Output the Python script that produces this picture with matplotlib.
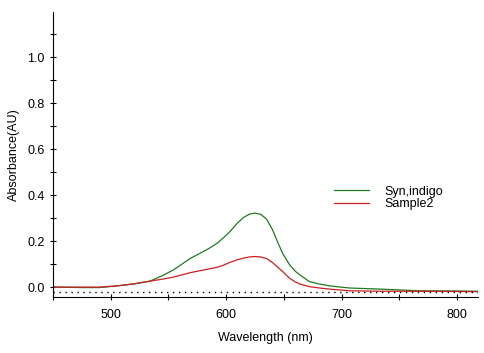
import matplotlib
matplotlib.use("Agg")
import matplotlib.pyplot as plt
from matplotlib.ticker import MultipleLocator

# values
wavelength = [450, 475, 490, 505, 520, 534, 544, 554, 569, 584, 592, 597,
              603, 609, 615, 620, 625, 630, 635, 640, 645, 649, 655, 660,
              664, 672, 681, 690, 707, 735, 767, 800, 818]
syn_indigo = [0.0, -0.002, -0.002, 0.005, 0.014, 0.026, 0.048, 0.074, 0.125,
              0.165, 0.19, 0.212, 0.24, 0.275, 0.303, 0.317, 0.322, 0.316,
              0.295, 0.25, 0.19, 0.145, 0.096, 0.068, 0.052, 0.024, 0.013,
              0.005, -0.004, -0.009, -0.016, -0.017, -0.018]
sample2 = [0.0, 0.0, 0.0, 0.005, 0.014, 0.026, 0.034, 0.043, 0.063, 0.078,
           0.086, 0.094, 0.107, 0.118, 0.126, 0.131, 0.133, 0.131, 0.124,
           0.107, 0.085, 0.067, 0.038, 0.022, 0.013, 0.002, -0.004, -0.009,
           -0.016, -0.018, -0.018, -0.019, -0.02]
baseline = -0.022


def main():
    plt.rcParams['font.family'] = ['Liberation Sans', 'DejaVu Sans']
    plt.rcParams['font.size'] = 9
    fig = plt.figure(figsize=(4.85, 3.53), dpi=100)
    ax = fig.add_axes([53 / 485, 56 / 353, 425 / 485, 285 / 353])

    ax.plot(wavelength, syn_indigo, color="#1e7b1e", lw=0.9, label="Syn,indigo")
    ax.plot(wavelength, sample2, color="#cc2020", lw=0.9, label="Sample2")
    ax.axhline(baseline, color="black", lw=1, linestyle=(0, (1, 3.3)))

    ax.set_xlim(450, 818)
    ax.set_ylim(-0.043, 1.196)
    ax.xaxis.set_major_locator(MultipleLocator(100))
    ax.xaxis.set_minor_locator(MultipleLocator(50))
    ax.yaxis.set_major_locator(MultipleLocator(0.2))
    ax.yaxis.set_minor_locator(MultipleLocator(0.1))
    ax.yaxis.set_major_formatter(lambda v, p: f"{v:.1f}")
    ax.tick_params(which="both", direction="inout", length=5, width=0.8,
                   labelsize=9)
    ax.tick_params(axis="x", pad=6)
    for s in ("top", "right"):
        ax.spines[s].set_visible(False)
    for s in ("left", "bottom"):
        ax.spines[s].set_linewidth(0.8)

    ax.set_xlabel("Wavelength (nm)", labelpad=8)
    ax.set_ylabel("Absorbance(AU)", labelpad=5)

    ax.legend(loc="upper left", bbox_to_anchor=(0.662, 0.39), frameon=False,
              borderpad=0, borderaxespad=0, handlelength=2.8,
              handletextpad=1.2, labelspacing=0.05, fontsize=9)

    fig.savefig("out.png", dpi=100)


if __name__ == "__main__":
    main()
